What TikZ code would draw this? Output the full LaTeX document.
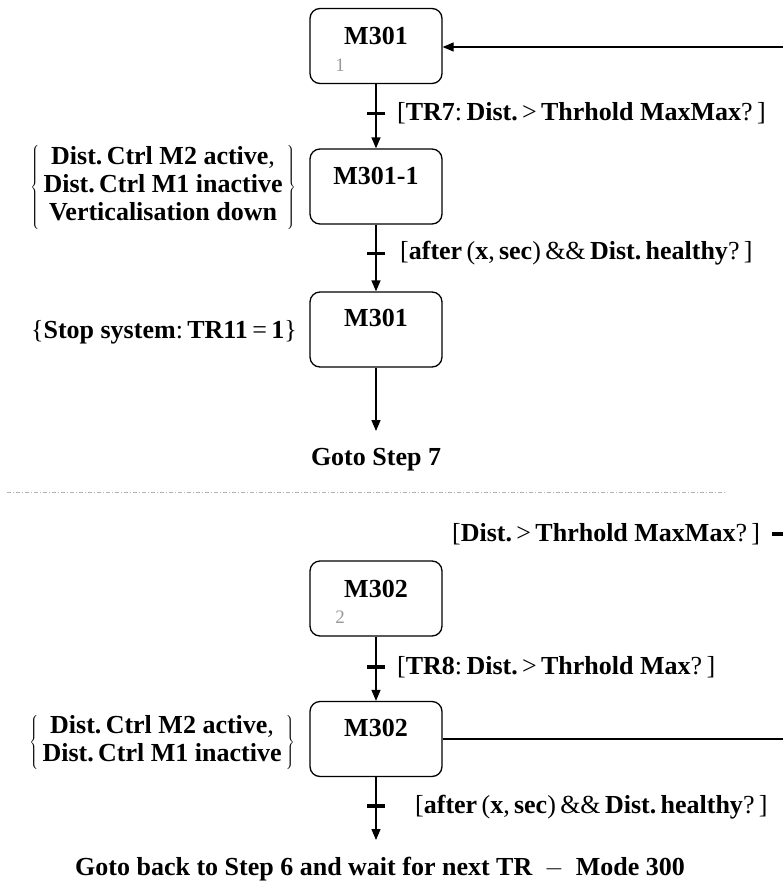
\documentclass[tikz,border=0pt]{standalone}
\usepackage{fontspec}
\setmainfont{Liberation Serif}
\usetikzlibrary{arrows.meta}
\tikzset{
  stepbox/.style={draw, rounded corners=10pt, line width=1.3pt, minimum width=132pt, minimum height=75pt, inner sep=0pt},
  boxlbl/.style={font=\fontsize{26}{28}\selectfont\bfseries, inner sep=0pt},
  numlbl/.style={text=gray!80, font=\fontsize{19}{20}\selectfont, inner sep=0pt},
  arr/.style={line width=1.3pt, -{Triangle[length=11pt,width=9pt]}},
  plain/.style={line width=1.3pt},
  tickmark/.style={fill=black, minimum width=18pt, minimum height=3.5pt, inner sep=0pt, outer sep=0pt},
  lbl/.style={anchor=west, inner sep=0pt, font=\fontsize{26}{28}\selectfont},
  lefttxt/.style={anchor=east, inner sep=0pt, font=\fontsize{26}{28}\selectfont},
  sep/.style={draw=gray!60, line width=1pt, dash pattern=on 4pt off 2pt on 1pt off 2pt}
}
\begin{document}
\begin{tikzpicture}[x=1pt,y=-1pt]
\path[use as bounding box] (0,0) rectangle (783,886);
% upper part
\node[stepbox] (A) at (376,46) {};
\node[boxlbl] (Alab) at (376,36) {M301};
\node[numlbl] (Anum) at (340,65) {1};
\node[stepbox] (B) at (376,186.5) {};
\node[boxlbl] (Blab) at (376,176) {M301-1};
\node[stepbox] (C) at (376,329.5) {};
\node[boxlbl] (Clab) at (376,318) {M301};
\coordinate (r1) at (783,47);
\draw[arr] (r1) -- (r1 -| A.east);
\draw[arr] (A.south) -- node[pos=0.455, tickmark] (t1) {} (B.north);
\node[lbl] (l1) at (397,113) {[\textbf{TR7}:\,\textbf{Dist.}\,>\,\textbf{Thrhold MaxMax}?\,]};
\draw[arr] (B.south) -- node[pos=0.43, tickmark] (t2) {} (C.north);
\node[lbl] (l2) at (400,253) {[\textbf{after}\,(\textbf{x},\,\textbf{sec})\,\&\&\,\textbf{Dist.\,healthy}?\,]};
\node[lefttxt] (bl) at (296,187) {$\left\{\mbox{\begin{tabular}{@{\,}c@{\,}}\textbf{Dist.\,Ctrl M2 active},\\ \textbf{Dist.\,Ctrl M1 inactive}\\ \textbf{Verticalisation down}\end{tabular}}\right\}$};
\node[lefttxt] (cl) at (297,332) {\{\textbf{Stop system}:\,\textbf{TR11}\,=\,\textbf{1}\}};
\node[boxlbl] (g7) at (376,460) {Goto Step 7};
\coordinate (c0) at (376,431);
\draw[arr] (C.south) -- (c0);
% separator
\coordinate (s1) at (7,492);
\coordinate (s2) at (727,492);
\draw[sep] (s1) -- (s2);
% lower part
\node[lbl] (l3) at (452,534) {[\textbf{Dist.}\,>\,\textbf{Thrhold MaxMax}?\,]};
\coordinate (d1) at (772,534);
\coordinate (d2) at (783,534);
\draw[line width=3.5pt] (d1) -- (d2);
\node[stepbox] (D) at (376,598.5) {};
\node[boxlbl] (Dlab) at (376,589) {M302};
\node[numlbl] (Dnum) at (340,617) {2};
\node[stepbox] (E) at (376,739) {};
\node[boxlbl] (Elab) at (376,728) {M302};
\draw[arr] (D.south) -- node[pos=0.47, tickmark] (t3) {} (E.north);
\node[lbl] (l4) at (397,667) {[\textbf{TR8}:\,\textbf{Dist.}\,>\,\textbf{Thrhold Max}?\,]};
\node[lefttxt] (el) at (295,742) {$\left\{\mbox{\begin{tabular}{@{\,}c@{\,}}\textbf{Dist.\,Ctrl M2 active},\\ \textbf{Dist.\,Ctrl M1 inactive}\end{tabular}}\right\}$};
\coordinate (r2) at (783,739);
\draw[plain] (E.east) -- (r2);
\coordinate (e1) at (376,840);
\draw[arr] (E.south) -- node[pos=0.46, tickmark] (t4) {} (e1);
\node[lbl] (l5) at (415,807) {[\textbf{after}\,(\textbf{x},\,\textbf{sec})\,\&\&\,\textbf{Dist.\,healthy}?\,]};
\node[boxlbl] (gb) at (380,869) {Goto back to Step 6 and wait for next TR ${}-{}$ Mode 300};
\end{tikzpicture}
\end{document}
